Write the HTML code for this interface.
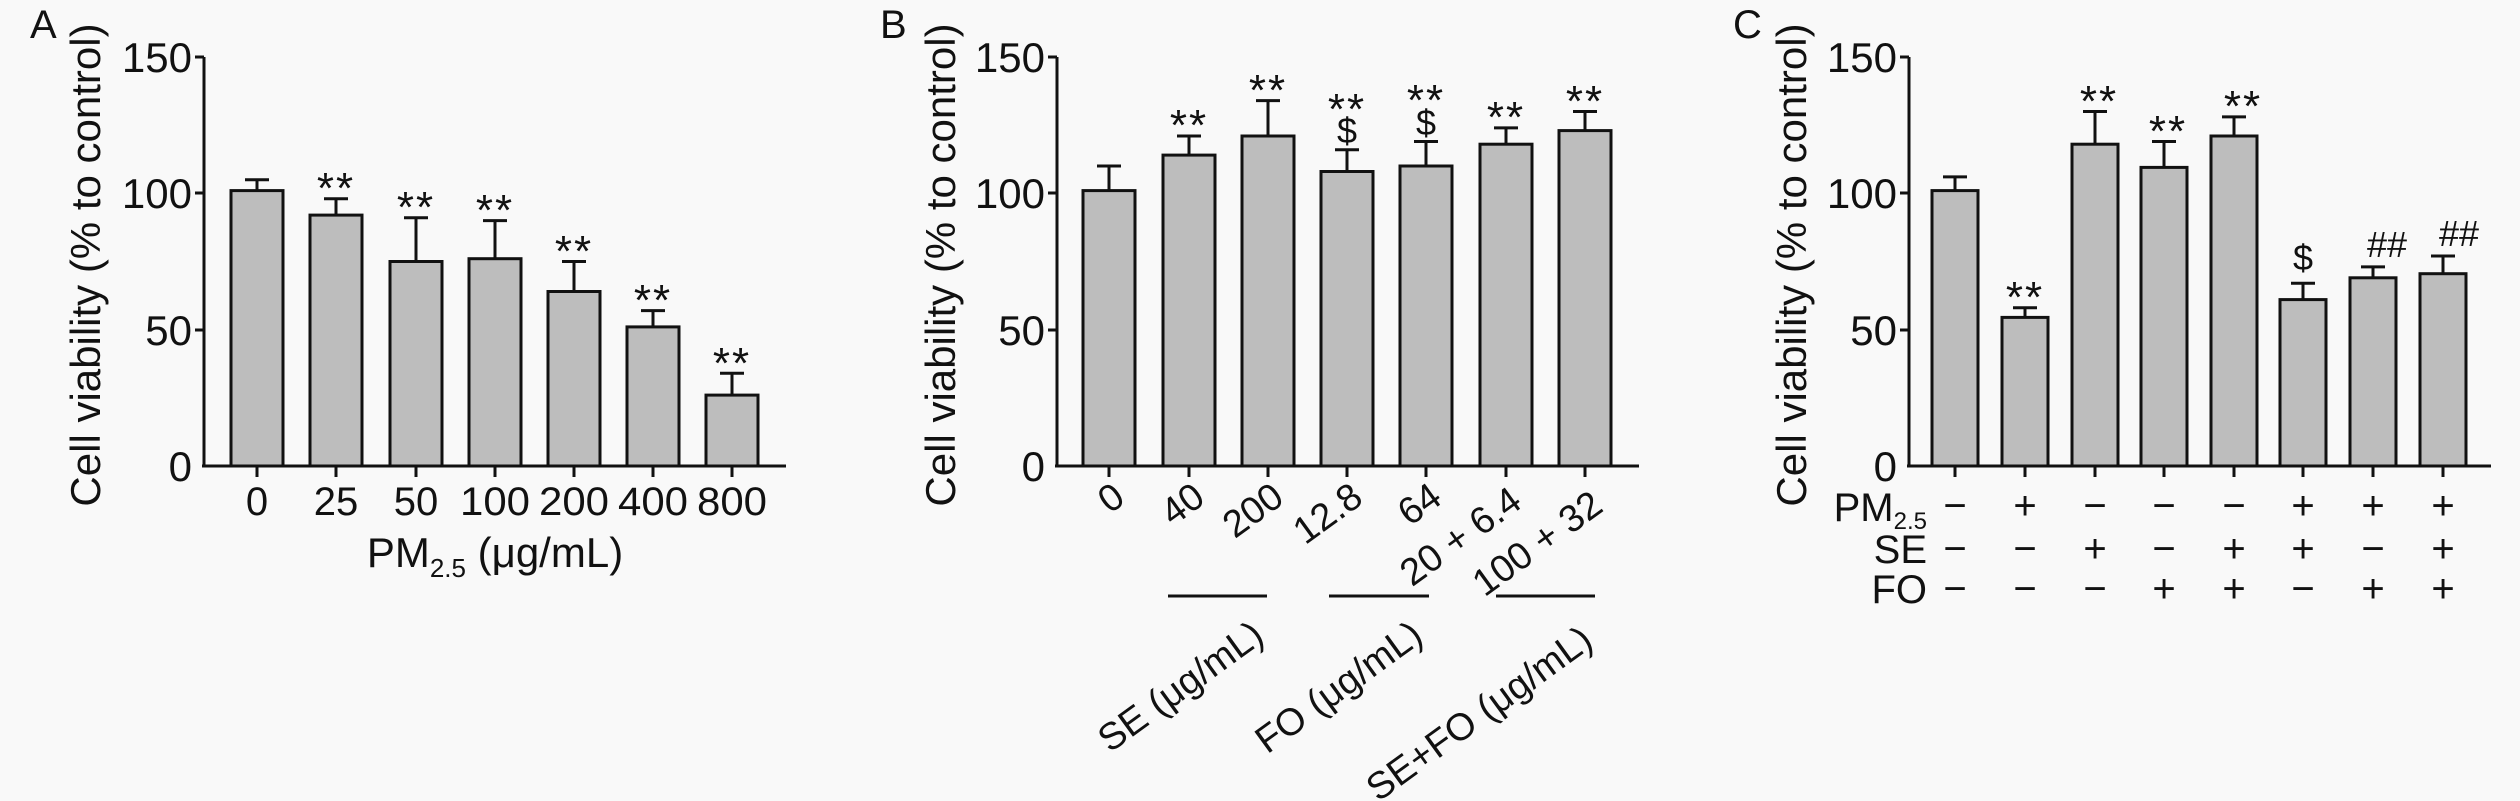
<!DOCTYPE html>
<html><head><meta charset="utf-8"><style>
html,body{margin:0;padding:0;background:#f9f9f9;}
svg{display:block;}
text{font-family:"Liberation Sans","DejaVu Sans",sans-serif;fill:#111;}
</style></head><body>
<svg width="2520" height="801" viewBox="0 0 2520 801" xmlns="http://www.w3.org/2000/svg">
<rect width="2520" height="801" fill="#f9f9f9"/>
<!-- Panel A -->
<text x="30" y="38" font-size="40">A</text>
<text transform="translate(100,265) rotate(-90)" text-anchor="middle" font-size="42">Cell viability (% to control)</text>
<g stroke="#111" stroke-width="3" fill="none">
<line x1="204" y1="57" x2="204" y2="467"/>
<line x1="202" y1="466" x2="786" y2="466"/>
<line x1="195" y1="57" x2="204" y2="57"/><line x1="195" y1="193" x2="204" y2="193"/><line x1="195" y1="330" x2="204" y2="330"/>
</g>
<g font-size="42" text-anchor="end"><text x="192" y="72">150</text><text x="192" y="208">100</text><text x="192" y="345">50</text><text x="192" y="481">0</text></g>
<g font-size="40" text-anchor="middle"><text x="257" y="515">0</text><text x="336" y="515">25</text><text x="416" y="515">50</text><text x="495" y="515" textLength="70" lengthAdjust="spacingAndGlyphs">100</text><text x="574" y="515" textLength="70" lengthAdjust="spacingAndGlyphs">200</text><text x="653" y="515" textLength="70" lengthAdjust="spacingAndGlyphs">400</text><text x="732" y="515" textLength="70" lengthAdjust="spacingAndGlyphs">800</text></g>
<text x="495" y="567" font-size="42" text-anchor="middle">PM<tspan font-size="26" dy="10">2.5</tspan><tspan dy="-10"> (μg/mL)</tspan></text>
<g stroke="#111" stroke-width="3" fill="#bdbdbd">
<line x1="257" y1="190.6" x2="257" y2="179.7"/><line x1="245" y1="179.7" x2="269" y2="179.7"/><rect x="231" y="190.6" width="52" height="275.4"/>
<line x1="336" y1="215.1" x2="336" y2="198.8"/><line x1="324" y1="198.8" x2="348" y2="198.8"/><rect x="310" y="215.1" width="52" height="250.9"/>
<line x1="416" y1="261.5" x2="416" y2="217.8"/><line x1="404" y1="217.8" x2="428" y2="217.8"/><rect x="390" y="261.5" width="52" height="204.5"/>
<line x1="495" y1="258.7" x2="495" y2="220.6"/><line x1="483" y1="220.6" x2="507" y2="220.6"/><rect x="469" y="258.7" width="52" height="207.3"/>
<line x1="574" y1="291.5" x2="574" y2="261.5"/><line x1="562" y1="261.5" x2="586" y2="261.5"/><rect x="548" y="291.5" width="52" height="174.5"/>
<line x1="653" y1="326.9" x2="653" y2="310.6"/><line x1="641" y1="310.6" x2="665" y2="310.6"/><rect x="627" y="326.9" width="52" height="139.1"/>
<line x1="732" y1="395.1" x2="732" y2="373.3"/><line x1="720" y1="373.3" x2="744" y2="373.3"/><rect x="706" y="395.1" width="52" height="70.9"/>
<line x1="257" y1="466" x2="257" y2="477"/><line x1="336" y1="466" x2="336" y2="477"/><line x1="416" y1="466" x2="416" y2="477"/><line x1="495" y1="466" x2="495" y2="477"/><line x1="574" y1="466" x2="574" y2="477"/><line x1="653" y1="466" x2="653" y2="477"/><line x1="732" y1="466" x2="732" y2="477"/>
</g>
<g font-size="44" text-anchor="middle" letter-spacing="2">
<text x="336" y="203">**</text><text x="416" y="222">**</text><text x="495" y="225">**</text><text x="574" y="266">**</text><text x="653" y="315">**</text><text x="732" y="378">**</text>
</g>
<!-- Panel B -->
<text x="880" y="38" font-size="40">B</text>
<text transform="translate(955,265) rotate(-90)" text-anchor="middle" font-size="42">Cell viability (% to control)</text>
<g stroke="#111" stroke-width="3" fill="none">
<line x1="1057" y1="57" x2="1057" y2="467"/>
<line x1="1055" y1="466" x2="1639" y2="466"/>
<line x1="1048" y1="57" x2="1057" y2="57"/><line x1="1048" y1="193" x2="1057" y2="193"/><line x1="1048" y1="330" x2="1057" y2="330"/>
<line x1="1168" y1="596" x2="1267" y2="596"/><line x1="1329" y1="596" x2="1429" y2="596"/><line x1="1496" y1="596" x2="1595" y2="596"/>
</g>
<g font-size="42" text-anchor="end"><text x="1045" y="72">150</text><text x="1045" y="208">100</text><text x="1045" y="345">50</text><text x="1045" y="481">0</text></g>
<g font-size="38" text-anchor="end">
<text transform="translate(1127,502) rotate(-36)">0</text>
<text transform="translate(1207,502) rotate(-36)">40</text>
<text transform="translate(1286,502) rotate(-36)">200</text>
<text transform="translate(1365,502) rotate(-36)">12.8</text>
<text transform="translate(1444,502) rotate(-36)">64</text>
<text transform="translate(1524,506) rotate(-36)">20 + 6.4</text>
<text transform="translate(1605,510) rotate(-36)">100 + 32</text>
<text transform="translate(1266,640) rotate(-36)">SE (μg/mL)</text>
<text transform="translate(1425,640) rotate(-36)">FO (μg/mL)</text>
<text transform="translate(1595,645) rotate(-36)">SE+FO (μg/mL)</text>
</g>
<g stroke="#111" stroke-width="3" fill="#bdbdbd">
<line x1="1109" y1="190.6" x2="1109" y2="166"/><line x1="1097" y1="166" x2="1121" y2="166"/><rect x="1083" y="190.6" width="52" height="275.4"/>
<line x1="1189" y1="155.1" x2="1189" y2="136"/><line x1="1177" y1="136" x2="1201" y2="136"/><rect x="1163" y="155.1" width="52" height="310.9"/>
<line x1="1268" y1="136" x2="1268" y2="100.6"/><line x1="1256" y1="100.6" x2="1280" y2="100.6"/><rect x="1242" y="136" width="52" height="330"/>
<line x1="1347" y1="171.5" x2="1347" y2="149.7"/><line x1="1335" y1="149.7" x2="1359" y2="149.7"/><rect x="1321" y="171.5" width="52" height="294.5"/>
<line x1="1426" y1="166" x2="1426" y2="141.5"/><line x1="1414" y1="141.5" x2="1438" y2="141.5"/><rect x="1400" y="166" width="52" height="300"/>
<line x1="1506" y1="144.2" x2="1506" y2="127.9"/><line x1="1494" y1="127.9" x2="1518" y2="127.9"/><rect x="1480" y="144.2" width="52" height="321.8"/>
<line x1="1585" y1="130.6" x2="1585" y2="111.5"/><line x1="1573" y1="111.5" x2="1597" y2="111.5"/><rect x="1559" y="130.6" width="52" height="335.4"/>
<line x1="1109" y1="466" x2="1109" y2="477"/><line x1="1189" y1="466" x2="1189" y2="477"/><line x1="1268" y1="466" x2="1268" y2="477"/><line x1="1347" y1="466" x2="1347" y2="477"/><line x1="1426" y1="466" x2="1426" y2="477"/><line x1="1506" y1="466" x2="1506" y2="477"/><line x1="1585" y1="466" x2="1585" y2="477"/>
</g>
<g font-size="44" text-anchor="middle" letter-spacing="2">
<text x="1189" y="140">**</text><text x="1268" y="105">**</text><text x="1347" y="124">**</text><text x="1426" y="115">**</text><text x="1506" y="132">**</text><text x="1585" y="116">**</text>
</g>
<g font-size="36" text-anchor="middle"><text x="1347" y="143">$</text><text x="1426" y="135">$</text></g>
<!-- Panel C -->
<text x="1733" y="38" font-size="40">C</text>
<text transform="translate(1806,265) rotate(-90)" text-anchor="middle" font-size="42">Cell viability (% to control)</text>
<g stroke="#111" stroke-width="3" fill="none">
<line x1="1909" y1="57" x2="1909" y2="467"/>
<line x1="1907" y1="466" x2="2491" y2="466"/>
<line x1="1900" y1="57" x2="1909" y2="57"/><line x1="1900" y1="193" x2="1909" y2="193"/><line x1="1900" y1="330" x2="1909" y2="330"/>
</g>
<g font-size="42" text-anchor="end"><text x="1897" y="72">150</text><text x="1897" y="208">100</text><text x="1897" y="345">50</text><text x="1897" y="481">0</text></g>
<g font-size="40" text-anchor="end">
<text x="1927" y="521">PM<tspan font-size="24" dy="8">2.5</tspan></text>
<text x="1927" y="563">SE</text>
<text x="1927" y="603">FO</text>
</g>
<g stroke="#111" stroke-width="3" fill="#bdbdbd">
<line x1="1955" y1="190.6" x2="1955" y2="176.9"/><line x1="1943" y1="176.9" x2="1967" y2="176.9"/><rect x="1932" y="190.6" width="46" height="275.4"/>
<line x1="2025" y1="317.4" x2="2025" y2="307.8"/><line x1="2013" y1="307.8" x2="2037" y2="307.8"/><rect x="2002" y="317.4" width="46" height="148.6"/>
<line x1="2095" y1="144.2" x2="2095" y2="111.5"/><line x1="2083" y1="111.5" x2="2107" y2="111.5"/><rect x="2072" y="144.2" width="46" height="321.8"/>
<line x1="2164" y1="167.4" x2="2164" y2="141.5"/><line x1="2152" y1="141.5" x2="2176" y2="141.5"/><rect x="2141" y="167.4" width="46" height="298.6"/>
<line x1="2234" y1="136" x2="2234" y2="116.9"/><line x1="2222" y1="116.9" x2="2246" y2="116.9"/><rect x="2211" y="136" width="46" height="330"/>
<line x1="2303" y1="299.6" x2="2303" y2="283.3"/><line x1="2291" y1="283.3" x2="2315" y2="283.3"/><rect x="2280" y="299.6" width="46" height="166.4"/>
<line x1="2373" y1="277.8" x2="2373" y2="266.9"/><line x1="2361" y1="266.9" x2="2385" y2="266.9"/><rect x="2350" y="277.8" width="46" height="188.2"/>
<line x1="2443" y1="273.7" x2="2443" y2="256"/><line x1="2431" y1="256" x2="2455" y2="256"/><rect x="2420" y="273.7" width="46" height="192.3"/>
<line x1="1955" y1="466" x2="1955" y2="477"/><line x1="2025" y1="466" x2="2025" y2="477"/><line x1="2095" y1="466" x2="2095" y2="477"/><line x1="2164" y1="466" x2="2164" y2="477"/><line x1="2234" y1="466" x2="2234" y2="477"/><line x1="2303" y1="466" x2="2303" y2="477"/><line x1="2373" y1="466" x2="2373" y2="477"/><line x1="2443" y1="466" x2="2443" y2="477"/>
</g>
<g font-size="44" text-anchor="middle" letter-spacing="2">
<text x="2025" y="312">**</text><text x="2099" y="116">**</text><text x="2168" y="146">**</text><text x="2243" y="121">**</text>
</g>
<g font-size="36" text-anchor="middle"><text x="2303" y="270">$</text><text x="2387" y="257">##</text><text x="2459" y="246">##</text></g>
<g font-size="40" text-anchor="middle">
<text x="1955" y="519">−</text><text x="2025" y="519">+</text><text x="2095" y="519">−</text><text x="2164" y="519">−</text><text x="2234" y="519">−</text><text x="2303" y="519">+</text><text x="2373" y="519">+</text><text x="2443" y="519">+</text>
<text x="1955" y="562">−</text><text x="2025" y="562">−</text><text x="2095" y="562">+</text><text x="2164" y="562">−</text><text x="2234" y="562">+</text><text x="2303" y="562">+</text><text x="2373" y="562">−</text><text x="2443" y="562">+</text>
<text x="1955" y="602">−</text><text x="2025" y="602">−</text><text x="2095" y="602">−</text><text x="2164" y="602">+</text><text x="2234" y="602">+</text><text x="2303" y="602">−</text><text x="2373" y="602">+</text><text x="2443" y="602">+</text>
</g>
</svg>
</body></html>
